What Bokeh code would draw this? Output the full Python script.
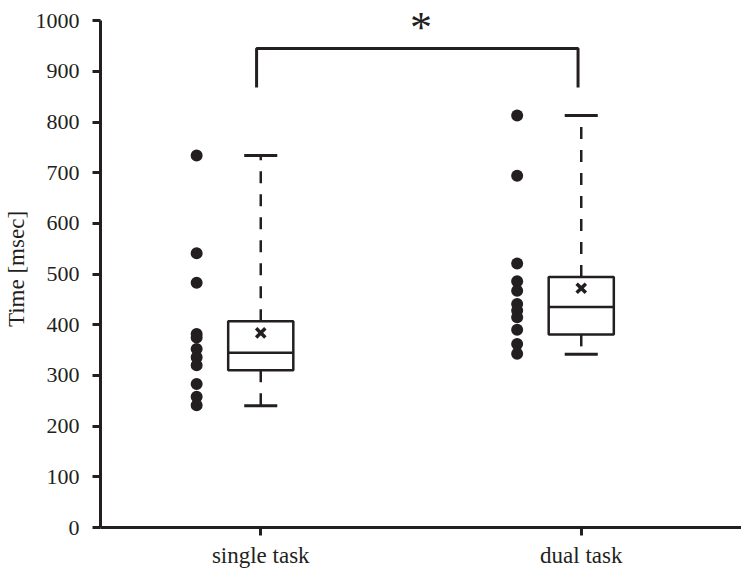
from bokeh.plotting import figure
from bokeh.models import Range1d, FixedTicker
from bokeh.core.properties import value
from bokeh.embed import file_html
from bokeh.resources import INLINE

categories = ["single task", "dual task"]
positions = [1, 2]
single_points = [734, 541, 483, 382, 375, 352, 336, 320, 283, 258, 241]
dual_points = [813, 694, 521, 486, 467, 441, 428, 415, 390, 362, 343]
q1 = [310, 381]
median = [345, 435]
q3 = [407, 494]
whisker_low = [240, 342]
whisker_high = [734, 813]
means = [384, 472]
y_ticks = [0, 100, 200, 300, 400, 500, 600, 700, 800, 900, 1000]
sig_label = "*"
sig_y = [868, 945]

INK = "#231f20"
FONT = "Liberation Serif"

p = figure(width=741, height=573, x_range=Range1d(0.5, 2.5), y_range=Range1d(0, 1020),
           output_backend="svg", toolbar_location=None,
           min_border_left=99, min_border_right=0, min_border_top=10, min_border_bottom=46)
p.outline_line_color = None
p.xgrid.visible = False
p.ygrid.visible = False

# axes
p.yaxis.bounds = (0, 1000)
p.yaxis.ticker = FixedTicker(ticks=y_ticks)
p.xaxis.ticker = FixedTicker(ticks=positions)
p.xaxis.major_label_overrides = {pos: cat for pos, cat in zip(positions, categories)}
for ax in (p.xaxis, p.yaxis):
    ax.axis_line_width = 3
    ax.axis_line_color = INK
    ax.major_tick_line_width = 3
    ax.major_tick_line_color = INK
    ax.major_tick_out = 8
    ax.major_tick_in = 0
    ax.minor_tick_line_color = None
    ax.major_label_text_font = FONT
    ax.major_label_text_color = INK
p.yaxis.major_label_text_font_size = "22px"
p.xaxis.major_label_text_font_size = "23px"
p.yaxis.major_label_standoff = 13
p.xaxis.major_label_standoff = 7
p.yaxis.axis_label = "Time [msec]"
p.yaxis.axis_label_text_font = FONT
p.yaxis.axis_label_text_font_size = "23px"
p.yaxis.axis_label_text_font_style = "normal"
p.yaxis.axis_label_text_color = INK
p.yaxis.axis_label_standoff = 4

box_half = 0.1016
cap_half = 0.0516
pt_off = 0.2

# whiskers (dashed, starting at box edge)
p.segment(x0=positions, y0=q3, x1=positions, y1=whisker_high, line_color=INK,
          line_width=2.5, line_dash="12 11")
p.segment(x0=positions, y0=q1, x1=positions, y1=whisker_low, line_color=INK,
          line_width=2.5, line_dash="12 11")
# caps
p.segment(x0=[x - cap_half for x in positions], y0=whisker_high,
          x1=[x + cap_half for x in positions], y1=whisker_high, line_color=INK, line_width=3)
p.segment(x0=[x - cap_half for x in positions], y0=whisker_low,
          x1=[x + cap_half for x in positions], y1=whisker_low, line_color=INK, line_width=3)
# boxes
p.quad(left=[x - box_half for x in positions], right=[x + box_half for x in positions],
       bottom=q1, top=q3, fill_color="white", line_color=INK, line_width=2.5)
p.segment(x0=[x - box_half for x in positions], y0=median,
          x1=[x + box_half for x in positions], y1=median, line_color=INK, line_width=2.5)
# means
p.scatter(x=positions, y=means, marker="x", size=13, line_color=INK, line_width=3.5)
# points
p.scatter(x=[positions[0] - pt_off] * len(single_points), y=single_points, marker="circle",
          size=12, fill_color=INK, line_color=None)
p.scatter(x=[positions[1] - pt_off] * len(dual_points), y=dual_points, marker="circle",
          size=12, fill_color=INK, line_color=None)

# significance bracket
bx0, bx1 = positions[0] - 0.013, positions[1] - 0.01
p.line(x=[bx0, bx0, bx1, bx1], y=[sig_y[0], sig_y[1], sig_y[1], sig_y[0]],
       line_color=INK, line_width=3)
p.text(x=[(positions[0] + positions[1]) / 2], y=[986], text=[sig_label],
       text_font=value(FONT), text_font_size="44px", text_align="center",
       text_baseline="alphabetic", text_color=INK)

open("out.html", "w").write(file_html(p, INLINE))
